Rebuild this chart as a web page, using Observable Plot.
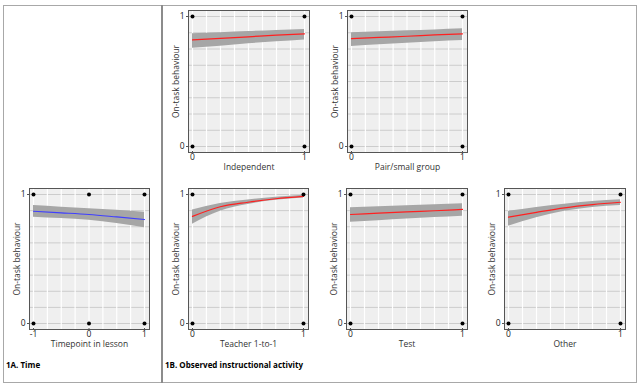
<!DOCTYPE html>
<html><head><meta charset="utf-8">
<script src="https://cdn.jsdelivr.net/npm/d3@7"></script>
<script src="https://cdn.jsdelivr.net/npm/@observablehq/plot@0.6"></script>
<style>
body{margin:0;background:#fff;}
#page{position:relative;width:640px;height:384px;overflow:hidden;font-family:"Open Sans",sans-serif;background:#fff;}
.outer{position:absolute;left:3px;top:5px;width:634px;height:378px;border:1.5px solid #a8a8a8;box-sizing:border-box;}
.divider{position:absolute;left:161px;top:5px;width:1.5px;height:378px;background:#8c8c8c;}
.panel{position:absolute;}
.tag{position:absolute;font-weight:bold;font-size:8px;color:#000;white-space:nowrap;line-height:10px;}
</style></head><body><div id="page"><div class="outer"></div><div class="divider"></div></div>
<script>
// ---------- data ----------
const yLabel = "On-task behaviour";
const yTicks = [0, 1];
const gridY = [0, 0.125, 0.25, 0.375, 0.5, 0.625, 0.75, 0.875, 1];

const timeTicks = [-1, 0, 1];
const timeGrid = [-1, -0.75, -0.5, -0.25, 0, 0.25, 0.5, 0.75, 1];
const timeX   = [-1, -0.5, 0, 0.5, 1];
const timeFit = [0.870, 0.858, 0.845, 0.826, 0.806];
const timeLo  = [0.824, 0.813, 0.800, 0.775, 0.742];
const timeHi  = [0.915, 0.902, 0.890, 0.878, 0.863];

const actTicks = [0, 1];
const actGrid = [0, 0.125, 0.25, 0.375, 0.5, 0.625, 0.75, 0.875, 1];
const actX = [0, 0.25, 0.5, 0.75, 1];

const indepFit = [0.820, 0.832, 0.844, 0.856, 0.867];
const indepLo  = [0.756, 0.772, 0.790, 0.806, 0.820];
const indepHi  = [0.867, 0.875, 0.884, 0.892, 0.900];

const pairFit = [0.830, 0.839, 0.848, 0.858, 0.867];
const pairLo  = [0.770, 0.782, 0.795, 0.806, 0.815];
const pairHi  = [0.875, 0.882, 0.890, 0.897, 0.905];

const teachFit = [0.830, 0.905, 0.940, 0.967, 0.985];
const teachLo  = [0.770, 0.870, 0.922, 0.955, 0.972];
const teachHi  = [0.880, 0.930, 0.958, 0.978, 0.995];

const testFit = [0.845, 0.855, 0.865, 0.874, 0.884];
const testLo  = [0.785, 0.797, 0.810, 0.821, 0.832];
const testHi  = [0.897, 0.905, 0.912, 0.920, 0.928];

const otherFit = [0.824, 0.862, 0.897, 0.922, 0.940];
const otherLo  = [0.754, 0.820, 0.870, 0.900, 0.915];
const otherHi  = [0.870, 0.900, 0.925, 0.945, 0.959];

const obsY = [0, 1];

// ---------- layout ----------
const page = document.getElementById("page");
const ML = 40, MT = 6, MR = 6, MB = 30;

function panel(cfg) {
  const rows = cfg.xs.map((x, i) => ({x, fit: cfg.fit[i], lo: cfg.lo[i], hi: cfg.hi[i]}));
  const obs = cfg.ticks.flatMap(x => obsY.map(y => ({x, y})));
  const fw = cfg.R - cfg.L, fh = cfg.B - cfg.T;
  const chart = Plot.plot({
    width: fw + ML + MR,
    height: fh + MT + MB,
    marginLeft: ML, marginTop: MT, marginRight: MR, marginBottom: MB,
    style: {fontFamily: "'Open Sans', sans-serif", fontSize: "8.5px", background: "transparent", color: "#222"},
    x: {domain: [cfg.ticks[0], cfg.ticks[cfg.ticks.length - 1]], insetLeft: 4, insetRight: 5},
    y: {domain: [0, 1], insetTop: 6, insetBottom: 6},
    marks: [
      Plot.frame({fill: "#efefef"}),
      Plot.ruleY(gridY, {stroke: "#cccccc", strokeWidth: 1}),
      Plot.ruleX(cfg.grid, {stroke: "#ffffff", strokeWidth: 1.2}),
      Plot.areaY(rows, {x: "x", y1: "lo", y2: "hi", fill: "#a6a6a6", curve: "monotone-x"}),
      Plot.lineY(rows, {x: "x", y: "fit", stroke: cfg.color, strokeWidth: 1.2, curve: "monotone-x"}),
      Plot.dot(obs, {x: "x", y: "y", r: 2, fill: "#000", stroke: null}),
      Plot.frame({stroke: "#555", strokeWidth: 1}),
      Plot.axisX(cfg.ticks, {tickSize: 2, tickPadding: 0, tickFormat: d => String(d), label: null, fontSize: 8.5, stroke: "#555", dy: -1}),
      Plot.axisY(yTicks, {tickSize: 2, tickPadding: 2, tickFormat: d => String(d), label: null, fontSize: 8.5, stroke: "#555"}),
      Plot.text([yLabel], {frameAnchor: "left", rotate: -90, textAnchor: "middle", lineAnchor: "middle", dx: -12, fontSize: 8.5, fill: "#333"}),
      Plot.text([cfg.xLabel], {frameAnchor: "bottom", textAnchor: "middle", lineAnchor: "middle", dy: 15, fontSize: 8.5, fill: "#333"})
    ]
  });
  const wrap = document.createElement("div");
  wrap.className = "panel";
  wrap.style.left = (cfg.L - ML) + "px";
  wrap.style.top = (cfg.T - MT) + "px";
  wrap.appendChild(chart);
  page.appendChild(wrap);
}

panel({L: 188, R: 309, T: 10, B: 152, ticks: actTicks, grid: actGrid, xs: actX, fit: indepFit, lo: indepLo, hi: indepHi, color: "#ff2020", xLabel: "Independent"});
panel({L: 347, R: 467, T: 10, B: 152, ticks: actTicks, grid: actGrid, xs: actX, fit: pairFit, lo: pairLo, hi: pairHi, color: "#ff2020", xLabel: "Pair/small group"});
panel({L: 29, R: 149, T: 188, B: 329, ticks: timeTicks, grid: timeGrid, xs: timeX, fit: timeFit, lo: timeLo, hi: timeHi, color: "#3f3fff", xLabel: "Timepoint in lesson"});
panel({L: 188, R: 308, T: 188, B: 329, ticks: actTicks, grid: actGrid, xs: actX, fit: teachFit, lo: teachLo, hi: teachHi, color: "#ff2020", xLabel: "Teacher 1-to-1"});
panel({L: 346, R: 467, T: 188, B: 329, ticks: actTicks, grid: actGrid, xs: actX, fit: testFit, lo: testLo, hi: testHi, color: "#ff2020", xLabel: "Test"});
panel({L: 504, R: 625, T: 188, B: 329, ticks: actTicks, grid: actGrid, xs: actX, fit: otherFit, lo: otherLo, hi: otherHi, color: "#ff2020", xLabel: "Other"});

function tag(text, x, y) {
  const d = document.createElement("div");
  d.className = "tag";
  d.textContent = text;
  d.style.left = x + "px";
  d.style.top = y + "px";
  page.appendChild(d);
}
tag("1A. Time", 6, 360);
tag("1B. Observed instructional activity", 165, 360);
</script>
</body></html>
